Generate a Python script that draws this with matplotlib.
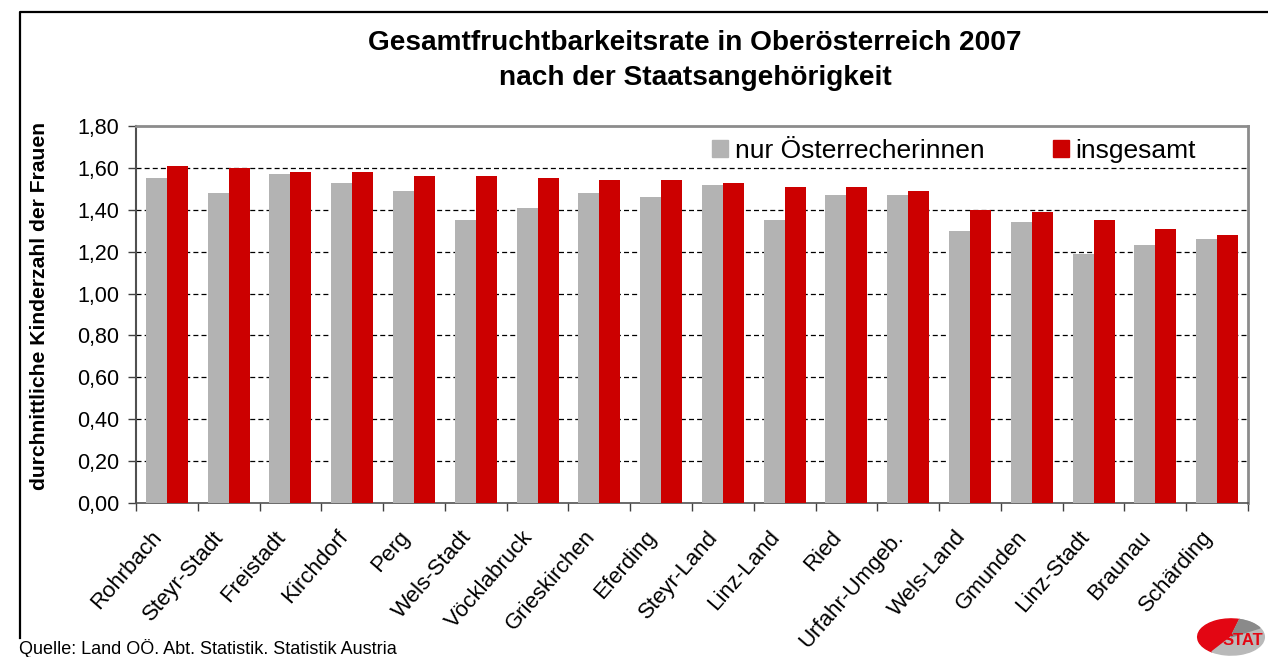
import matplotlib
matplotlib.use("Agg")
import matplotlib.pyplot as plt
import numpy as np
from matplotlib.lines import Line2D
from matplotlib.patches import Patch, Wedge
from matplotlib.transforms import ScaledTranslation

plt.rcParams['font.family'] = ['Liberation Sans', 'DejaVu Sans']

categories = ["Rohrbach", "Steyr-Stadt", "Freistadt", "Kirchdorf", "Perg", "Wels-Stadt",
              "Vöcklabruck", "Grieskirchen", "Eferding", "Steyr-Land", "Linz-Land", "Ried",
              "Urfahr-Umgeb.", "Wels-Land", "Gmunden", "Linz-Stadt", "Braunau", "Schärding"]
nur_oesterr = [1.55, 1.48, 1.57, 1.53, 1.49, 1.35, 1.41, 1.48, 1.46, 1.52, 1.35, 1.47,
               1.47, 1.30, 1.34, 1.19, 1.23, 1.26]
insgesamt = [1.61, 1.60, 1.58, 1.58, 1.56, 1.56, 1.55, 1.54, 1.54, 1.53, 1.51, 1.51,
             1.49, 1.40, 1.39, 1.35, 1.31, 1.28]
series_labels = ["nur Österrecherinnen", "insgesamt"]
yticks = [0.0, 0.2, 0.4, 0.6, 0.8, 1.0, 1.2, 1.4, 1.6, 1.8]

GRAY = "#b3b3b3"
RED = "#cc0000"

W, H = 1268, 657
fig = plt.figure(figsize=(W / 100, H / 100), dpi=100)
ax = fig.add_axes([136 / W, 1 - 503 / H, (1248 - 136) / W, (503 - 126) / H])

x = np.arange(len(categories))
bw = 0.34
ax.bar(x - bw / 2, nur_oesterr, bw, color=GRAY, zorder=3)
ax.bar(x + bw / 2, insgesamt, bw, color=RED, zorder=3)

ax.set_xlim(-0.5, len(categories) - 0.5)
ax.set_ylim(0, 1.8)
ax.set_yticks(yticks)
ax.set_yticklabels([f"{v:.2f}".replace(".", ",") for v in yticks], fontsize=15.5)
ax.set_xticks(x)
ax.set_xticklabels(categories, rotation=49, ha="right", rotation_mode="anchor", fontsize=16)
ax.set_xticks(np.arange(len(categories) + 1) - 0.5, minor=True)
ax.tick_params(axis="x", which="major", length=0, pad=17)
ax.tick_params(axis="x", which="minor", length=6, width=1, color="#404040")
ax.tick_params(axis="y", length=6, width=1, color="#404040", pad=6)
shift = ScaledTranslation(-16 / 100, 0, fig.dpi_scale_trans)
for lab in ax.get_xticklabels():
    lab.set_transform(lab.get_transform() + shift)

for v in yticks[1:-1]:
    ax.axhline(v, color="black", lw=0.9, ls=(0, (4, 2.5)), zorder=1)

for s in ["top", "right"]:
    ax.spines[s].set_color("#8c8c8c")
    ax.spines[s].set_linewidth(2)
ax.spines["left"].set_color("#505050")
ax.spines["left"].set_linewidth(1.5)
ax.spines["bottom"].set_color("#505050")
ax.spines["bottom"].set_linewidth(1.2)

handles = [Patch(color=GRAY), Patch(color=RED)]
ax.legend(handles, series_labels, loc="center", bbox_to_anchor=(0.7356, 0.934), ncol=2,
          frameon=False, fontsize=19, handlelength=0.6, handleheight=0.6,
          handletextpad=0.25, columnspacing=2.6, borderpad=0, borderaxespad=0)

fig.text(695 / W, 1 - 43 / H, "Gesamtfruchtbarkeitsrate in Oberösterreich 2007",
         ha="center", va="center", fontsize=20.2, fontweight="bold")
fig.text(695 / W, 1 - 78 / H, "nach der Staatsangehörigkeit",
         ha="center", va="center", fontsize=20.2, fontweight="bold")
fig.text(40 / W, 1 - 306 / H, "durchnittliche Kinderzahl der Frauen", rotation=90,
         ha="center", va="center", fontsize=15.2, fontweight="bold")
fig.text(19 / W, 1 - 648 / H, "Quelle: Land OÖ. Abt. Statistik. Statistik Austria",
         ha="left", va="center", fontsize=13)

# outer frame (left and top edges visible)
fig.add_artist(Line2D([20 / W, 20 / W, 1.0], [1 - 638 / H, 1 - 12 / H, 1 - 12 / H],
                      transform=fig.transFigure, color="black", lw=1.6))

# small logo at bottom right
lax = fig.add_axes([1196 / W, 1 - 656 / H, 70 / W, 38 / H])
lax.set_xlim(-1.05, 1.05)
lax.set_ylim(-1.05, 1.05)
lax.axis("off")
lax.add_patch(Wedge((0, 0), 1, 75, 235, color="#e30613"))
lax.add_patch(Wedge((0, 0), 1, 235, 75, color="#b9b9b9"))
lax.add_patch(Wedge((0, 0), 1, 30, 75, color="#8a8a8a"))
lax.text(-0.25, -0.2, "STAT", color="#e30613", fontsize=12, fontweight="bold",
         ha="left", va="center", family=["Liberation Sans", "DejaVu Sans"])

fig.savefig("out.png", dpi=100)
